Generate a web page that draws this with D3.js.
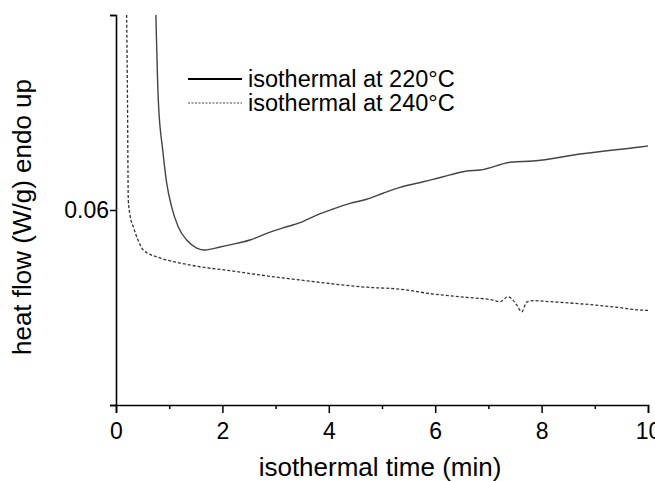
<!DOCTYPE html>
<html>
<head>
<meta charset="utf-8">
<script src="https://cdn.jsdelivr.net/npm/d3@7"></script>
<style>
  body { margin: 0; background: #fff; }
  svg { font-family: "Liberation Sans", Arial, sans-serif; }
</style>
</head>
<body>
<svg id="chart" width="655" height="481"></svg>
<script>
// isothermal at 220°C (time in min, heat flow in W/g)
const t220 = [0.75, 0.795, 0.878, 0.953, 1.047, 1.171, 1.329, 1.517, 1.673, 1.955, 2.143, 2.519, 2.833, 3.139, 3.459, 3.773, 4.079, 4.398, 4.712, 5.019, 5.338, 5.652, 5.959, 6.278, 6.592, 6.842, 7.444, 7.838, 8.722, 9.85, 10];
const hf220 = [0.07, 0.06564, 0.06308, 0.06138, 0.06015, 0.05913, 0.05846, 0.05805, 0.05795, 0.0581, 0.05821, 0.05846, 0.0588, 0.05908, 0.05935, 0.05974, 0.06005, 0.06034, 0.06055, 0.06086, 0.06116, 0.06137, 0.06157, 0.0618, 0.062, 0.06205, 0.06246, 0.06251, 0.06287, 0.06323, 0.06328];

// isothermal at 240°C
const t240 = [0.2, 0.216, 0.231, 0.263, 0.325, 0.414, 0.513, 0.827, 1.203, 1.579, 2.199, 2.833, 3.459, 4.079, 4.712, 5.338, 5.959, 6.592, 7.086, 7.218, 7.368, 7.462, 7.532, 7.626, 7.72, 7.838, 8.158, 8.778, 9.412, 9.85, 10];
const hf240 = [0.07, 0.06564, 0.06051, 0.05974, 0.05914, 0.05846, 0.05795, 0.05754, 0.05728, 0.05709, 0.05687, 0.05662, 0.05641, 0.05621, 0.05604, 0.05594, 0.05569, 0.05552, 0.05538, 0.0553, 0.05555, 0.05538, 0.05513, 0.05478, 0.05528, 0.05535, 0.0553, 0.05518, 0.05501, 0.05487, 0.05485];

const xTicks = [0, 2, 4, 6, 8, 10];
const xMinorTicks = [1, 3, 5, 7, 9];
const yTicks = [0.05, 0.06, 0.07];
const yTickLabels = ["", "0.06", ""];
const legendLabels = ["isothermal at 220°C", "isothermal at 240°C"];

const svg = d3.select("#chart");
const plotLeft = 116, plotRight = 648, plotTop = 15, plotBottom = 405;

const x = d3.scaleLinear().domain([0, 10]).range([plotLeft, plotRight]);
const y = d3.scaleLinear().domain([0.05, 0.07]).range([plotBottom, plotTop]);

// clip so the steep start stays inside the axes
svg.append("clipPath").attr("id", "plot")
  .append("rect").attr("x", plotLeft).attr("y", plotTop)
  .attr("width", plotRight - plotLeft + 2).attr("height", plotBottom - plotTop);

const line = d3.line().x(d => x(d[0])).y(d => y(d[1])).curve(d3.curveMonotoneX);

const g = svg.append("g").attr("clip-path", "url(#plot)");

g.append("path")
  .datum(t220.map((t, i) => [t, hf220[i]]))
  .attr("d", line)
  .attr("fill", "none")
  .attr("stroke", "#444")
  .attr("stroke-width", 1.4);

g.append("path")
  .datum(t240.map((t, i) => [t, hf240[i]]))
  .attr("d", line)
  .attr("fill", "none")
  .attr("stroke", "#333")
  .attr("stroke-width", 1.3)
  .attr("stroke-dasharray", "3,2");

// x axis
svg.append("g")
  .attr("transform", `translate(0,${plotBottom})`)
  .call(d3.axisBottom(x).tickValues(xTicks).tickSize(8).tickPadding(10).tickFormat(d3.format("d")));
svg.append("g")
  .attr("transform", `translate(0,${plotBottom})`)
  .call(d3.axisBottom(x).tickValues(xMinorTicks).tickSize(4).tickFormat(""))
  .call(a => a.select(".domain").remove());

// y axis
svg.append("g")
  .attr("transform", `translate(${plotLeft},0)`)
  .call(d3.axisLeft(y).tickValues(yTicks).tickSize(6).tickPadding(1)
    .tickFormat((d, i) => yTickLabels[i]));

svg.selectAll(".domain").attr("stroke", "#000").attr("stroke-width", 1.6);
svg.selectAll(".tick line").attr("stroke", "#000").attr("stroke-width", 1.5);
svg.selectAll(".tick text").attr("fill", "#000").style("font-size", "23px")
  .style("font-family", "'Liberation Sans', Arial, sans-serif");

// axis titles
svg.append("text")
  .attr("x", 380).attr("y", 476)
  .attr("text-anchor", "middle")
  .style("font-size", "26px")
  .text("isothermal time (min)");

svg.append("text")
  .attr("transform", "translate(31,217) rotate(-90)")
  .attr("text-anchor", "middle")
  .style("font-size", "26px")
  .text("heat flow (W/g) endo up");

// legend
const legend = svg.append("g").attr("transform", "translate(188,79)");
legendLabels.forEach((lab, i) => {
  const row = legend.append("g").attr("transform", `translate(0,${i * 24})`);
  row.append("line")
    .attr("x1", 0).attr("x2", 54).attr("y1", 0).attr("y2", 0)
    .attr("stroke", i === 0 ? "#000" : "#444")
    .attr("stroke-width", i === 0 ? 1.8 : 1.1)
    .attr("stroke-dasharray", i === 0 ? null : "2,1.5");
  row.append("text")
    .attr("x", 60).attr("y", 8)
    .style("font-size", "23.5px")
    .text(lab);
});
</script>
</body>
</html>
